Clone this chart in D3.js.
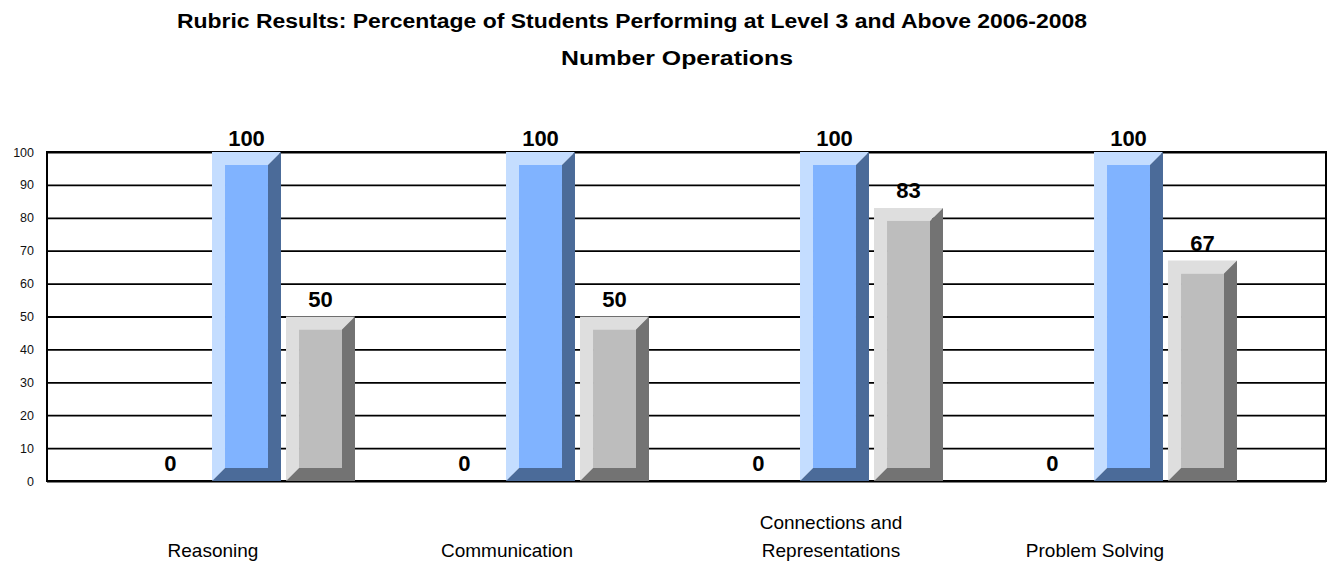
<!DOCTYPE html>
<html><head><meta charset="utf-8">
<script src="https://cdn.jsdelivr.net/npm/d3@7"></script>
<style>
html,body{margin:0;padding:0;background:#fff;}
svg{display:block;font-family:Arial,"Liberation Sans",sans-serif;}
</style></head>
<body><svg id="c" width="1332" height="571"></svg>
<script>
const categories = ["Reasoning","Communication","Connections and Representations","Problem Solving"];
const categoryLines = [["Reasoning"],["Communication"],["Connections and","Representations"],["Problem Solving"]];
const series = ["2006","2007","2008"];
const values2006 = [0,0,0,0];
const values2007 = [100,100,100,100];
const values2008 = [50,50,83,67];
const yTicks = [0,10,20,30,40,50,60,70,80,90,100];
const titleLine1 = "Rubric Results: Percentage of Students Performing at Level 3 and Above 2006-2008";
const titleLine2 = "Number Operations";

const colors = {
  "2006": {light:"#c4ddff", face:"#80b3ff", dark:"#4b6b99"},
  "2007": {light:"#c4ddff", face:"#80b3ff", dark:"#4b6b99"},
  "2008": {light:"#dedede", face:"#bdbdbd", dark:"#737373"}
};
const allValues = [values2006, values2007, values2008];

const svg = d3.select("#c");
const plotL = 47, plotR = 1326, plotT = 152, plotB = 481;

const y = d3.scaleLinear().domain([0,100]).range([plotB, plotT]);
const x0 = d3.scaleBand().domain(categories).range([138, 138 + 4*294]).padding(0);
const x1 = d3.scaleBand().domain(series).range([0, 217]).paddingInner(0.068).paddingOuter(0);

// title
svg.append("text").attr("x", 632).attr("y", 28).attr("text-anchor","middle")
  .attr("font-weight","bold").attr("font-size",20).attr("textLength",910).attr("lengthAdjust","spacingAndGlyphs")
  .attr("fill","#000").text(titleLine1);
svg.append("text").attr("x", 677).attr("y", 65).attr("text-anchor","middle")
  .attr("font-weight","bold").attr("font-size",20).attr("textLength",232).attr("lengthAdjust","spacingAndGlyphs")
  .attr("fill","#000").text(titleLine2);

// gridlines + y axis
const yAxis = d3.axisLeft(y).tickValues(yTicks).tickSize(-(plotR-plotL)).tickPadding(13);
const gy = svg.append("g").attr("transform", `translate(${plotL},0)`).call(yAxis);
gy.select(".domain").remove();
gy.selectAll(".tick line").attr("stroke","#000").attr("stroke-width",1.8);
gy.selectAll(".tick text").attr("font-size",12.5).attr("fill","#111")
  .attr("font-family","Arial,'Liberation Sans',sans-serif");
svg.append("rect").attr("x",plotL).attr("y",plotT).attr("width",plotR-plotL).attr("height",plotB-plotT)
  .attr("fill","none").attr("stroke","#000").attr("stroke-width",2);

// bars
const d = 13;
const data = [];
categories.forEach((c,i) => series.forEach((s,j) => data.push({c, s, v: allValues[j][i]})));
const gb = svg.append("g");
data.forEach(p => {
  const bx0 = x0(p.c) + x1(p.s), bx1 = bx0 + x1.bandwidth();
  const by0 = y(p.v), by1 = y(0);
  const col = colors[p.s];
  if (by1 - by0 > 2*d) {
    gb.append("polygon").attr("fill", col.light).attr("points",
      [[bx0,by1],[bx0,by0],[bx1,by0],[bx1-d,by0+d],[bx0+d,by0+d],[bx0+d,by1-d]].map(q=>q.join(",")).join(" "));
    gb.append("polygon").attr("fill", col.dark).attr("points",
      [[bx1,by0],[bx1,by1],[bx0,by1],[bx0+d,by1-d],[bx1-d,by1-d],[bx1-d,by0+d]].map(q=>q.join(",")).join(" "));
    gb.append("rect").attr("fill", col.face).attr("x",bx0+d).attr("y",by0+d)
      .attr("width",bx1-bx0-2*d).attr("height",by1-by0-2*d);
  }
  gb.append("text").attr("x",(bx0+bx1)/2 - (p.v === 0 ? 2 : 0)).attr("y", Math.max(by0 - 10, 146))
    .attr("text-anchor","middle").attr("font-weight","bold").attr("font-size",22)
    .attr("fill","#000").text(p.v);
});

// category labels
categories.forEach((c,i) => {
  const lines = categoryLines[i];
  const cx = x0(c) + 75 + (lines.length > 1 ? 30 : 0);
  const t = svg.append("text").attr("text-anchor","middle").attr("font-size",19).attr("fill","#000");
  lines.forEach((ln,k) => {
    t.append("tspan").attr("x",cx).attr("y", 557 - (lines.length-1-k)*28).text(ln);
  });
});
</script></body></html>
